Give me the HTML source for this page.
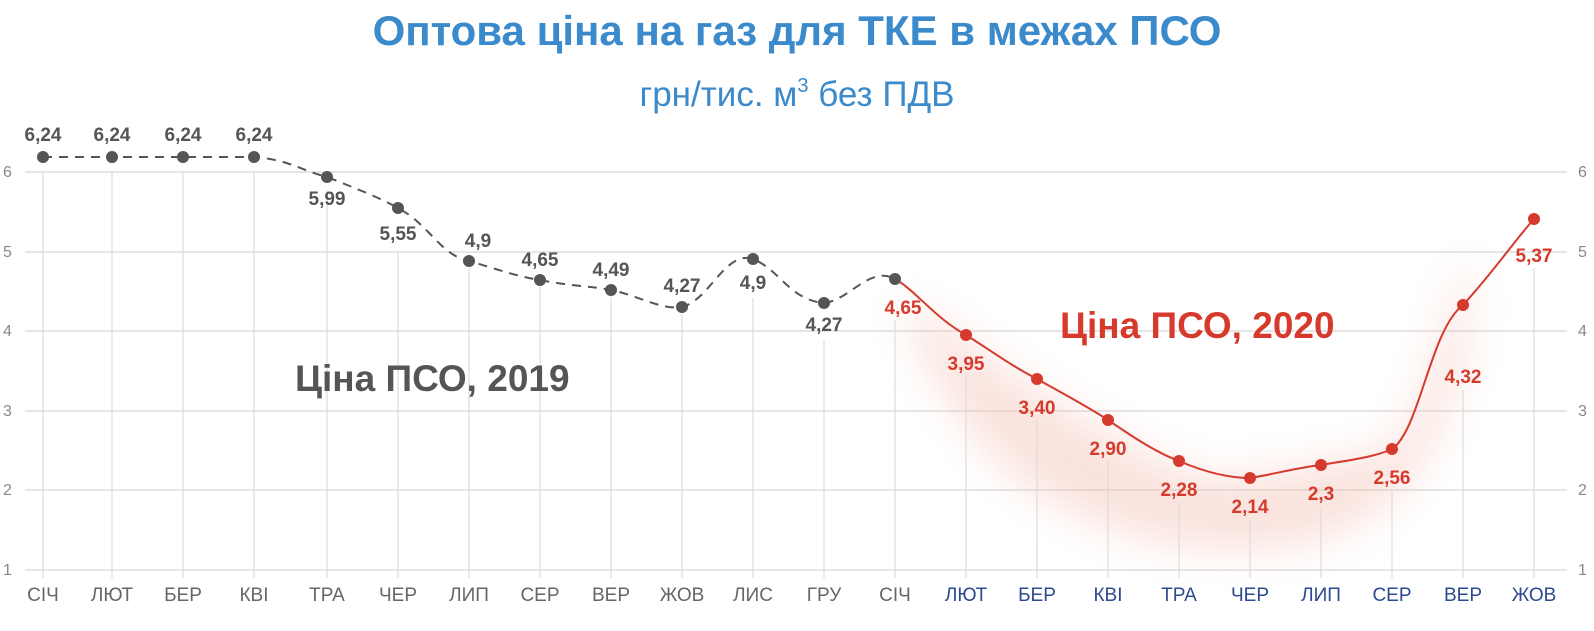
<!DOCTYPE html>
<html><head><meta charset="utf-8"><style>
body{margin:0;background:#fff;width:1594px;height:631px;overflow:hidden}
svg{display:block;font-family:"Liberation Sans","DejaVu Sans",sans-serif}
</style></head><body>
<svg width="1594" height="631" viewBox="0 0 1594 631">
<defs>
<filter id="bl" x="-20%" y="-20%" width="140%" height="140%"><feGaussianBlur stdDeviation="20"/></filter>
</defs>
<text x="797" y="45" text-anchor="middle" font-size="42" font-weight="bold" fill="#3b8acb">Оптова ціна на газ для ТКЕ в межах ПСО</text>
<text x="797" y="106" text-anchor="middle" font-size="35" fill="#3b8acb">грн/тис. м<tspan font-size="20" dy="-14">3</tspan><tspan dy="14"> без ПДВ</tspan></text>
<g stroke="#d6d6d6" stroke-width="1.3">
<line x1="25" y1="172" x2="1567" y2="172"/><line x1="25" y1="252" x2="1567" y2="252"/>
<line x1="25" y1="331" x2="1567" y2="331"/><line x1="25" y1="411" x2="1567" y2="411"/>
<line x1="25" y1="490" x2="1567" y2="490"/><line x1="25" y1="570" x2="1567" y2="570"/>
</g>
<g font-size="16" fill="#888">
<text x="3" y="177">6</text><text x="3" y="257">5</text><text x="3" y="336">4</text><text x="3" y="416">3</text><text x="3" y="495">2</text><text x="3" y="575">1</text>
<text x="1578" y="177">6</text><text x="1578" y="257">5</text><text x="1578" y="336">4</text><text x="1578" y="416">3</text><text x="1578" y="495">2</text><text x="1578" y="575">1</text>
</g>
<path d="M900,300 C960,330 1010,380 1086,420 C1140,450 1180,478 1228,478 C1300,470 1360,455 1390,449 C1420,420 1440,330 1470,250 L1470,330 C1440,460 1400,520 1300,545 C1200,560 1100,540 1020,480 C960,430 920,360 900,300 Z" fill="#f2b5a6" opacity="0.38" filter="url(#bl)"/>
<g stroke="#dcdcdc" stroke-width="1.2">
<line x1="43" y1="172" x2="43" y2="578"/><line x1="112" y1="172" x2="112" y2="578"/><line x1="183" y1="172" x2="183" y2="578"/><line x1="254" y1="172" x2="254" y2="578"/><line x1="327" y1="190" x2="327" y2="578"/><line x1="398" y1="252" x2="398" y2="578"/><line x1="469" y1="268" x2="469" y2="578"/><line x1="540" y1="287" x2="540" y2="578"/><line x1="611" y1="297" x2="611" y2="578"/><line x1="682" y1="314" x2="682" y2="578"/><line x1="753" y1="298" x2="753" y2="578"/><line x1="824" y1="340" x2="824" y2="578"/><line x1="895" y1="320" x2="895" y2="578"/><line x1="966" y1="378" x2="966" y2="578"/><line x1="1037" y1="420" x2="1037" y2="578"/><line x1="1108" y1="462" x2="1108" y2="578"/><line x1="1179" y1="502" x2="1179" y2="578"/><line x1="1250" y1="520" x2="1250" y2="578"/><line x1="1321" y1="506" x2="1321" y2="578"/><line x1="1392" y1="490" x2="1392" y2="578"/><line x1="1463" y1="390" x2="1463" y2="578"/><line x1="1534" y1="268" x2="1534" y2="578"/>
</g>
<path d="M43,157 L254,157 C290,160 300,170 327,177 C360,190 380,198 398,208 C430,225 440,255 469,261 C500,270 515,276 540,280 C570,286 590,286 611,290 C640,296 660,310 682,307 C710,300 725,250 753,259 C780,270 790,300 824,303 C850,300 870,265 895,279" fill="none" stroke="#555" stroke-width="2" stroke-dasharray="9,7"/>
<path d="M895,279 C915,290 935,318 966,335 C990,350 1010,365 1037,379 C1060,392 1085,405 1108,420 C1130,435 1155,452 1179,461 C1200,470 1225,478 1250,478 C1270,475 1295,468 1321,465 C1350,460 1375,457 1392,449 C1420,430 1430,330 1463,305 C1495,270 1515,240 1534,219" fill="none" stroke="#d63a2c" stroke-width="2"/>
<g fill="#555">
<circle cx="43" cy="157" r="6"/><circle cx="112" cy="157" r="6"/><circle cx="183" cy="157" r="6"/><circle cx="254" cy="157" r="6"/><circle cx="327" cy="177" r="6"/><circle cx="398" cy="208" r="6"/><circle cx="469" cy="261" r="6"/><circle cx="540" cy="280" r="6"/><circle cx="611" cy="290" r="6"/><circle cx="682" cy="307" r="6"/><circle cx="753" cy="259" r="6"/><circle cx="824" cy="303" r="6"/><circle cx="895" cy="279" r="6"/>
</g>
<g fill="#d63a2c">
<circle cx="966" cy="335" r="6"/><circle cx="1037" cy="379" r="6"/><circle cx="1108" cy="420" r="6"/><circle cx="1179" cy="461" r="6"/><circle cx="1250" cy="478" r="6"/><circle cx="1321" cy="465" r="6"/><circle cx="1392" cy="449" r="6"/><circle cx="1463" cy="305" r="6"/><circle cx="1534" cy="219" r="6"/>
</g>
<g font-size="19" font-weight="bold" fill="#555" text-anchor="middle">
<text x="43" y="141">6,24</text><text x="112" y="141">6,24</text><text x="183" y="141">6,24</text><text x="254" y="141">6,24</text>
<text x="327" y="205">5,99</text><text x="398" y="240">5,55</text><text x="478" y="247">4,9</text><text x="540" y="266">4,65</text><text x="611" y="276">4,49</text><text x="682" y="292">4,27</text><text x="753" y="289">4,9</text><text x="824" y="331">4,27</text>
</g>
<g font-size="19" font-weight="bold" fill="#d63a2c" text-anchor="middle">
<text x="903" y="314">4,65</text><text x="966" y="370">3,95</text><text x="1037" y="414">3,40</text><text x="1108" y="455">2,90</text><text x="1179" y="496">2,28</text><text x="1250" y="513">2,14</text><text x="1321" y="500">2,3</text><text x="1392" y="484">2,56</text><text x="1463" y="383">4,32</text><text x="1534" y="262">5,37</text>
</g>
<text x="295" y="391" font-size="37" font-weight="bold" fill="#555">Ціна ПСО, 2019</text>
<text x="1060" y="338" font-size="37" font-weight="bold" fill="#d63a2c">Ціна ПСО, 2020</text>
<g font-size="19" text-anchor="middle" fill="#666">
<text x="43" y="601">СІЧ</text><text x="112" y="601">ЛЮТ</text><text x="183" y="601">БЕР</text><text x="254" y="601">КВІ</text><text x="327" y="601">ТРА</text><text x="398" y="601">ЧЕР</text><text x="469" y="601">ЛИП</text><text x="540" y="601">СЕР</text><text x="611" y="601">ВЕР</text><text x="682" y="601">ЖОВ</text><text x="753" y="601">ЛИС</text><text x="824" y="601">ГРУ</text><text x="895" y="601">СІЧ</text>
</g>
<g font-size="19" text-anchor="middle" fill="#2b4a8f">
<text x="966" y="601">ЛЮТ</text><text x="1037" y="601">БЕР</text><text x="1108" y="601">КВІ</text><text x="1179" y="601">ТРА</text><text x="1250" y="601">ЧЕР</text><text x="1321" y="601">ЛИП</text><text x="1392" y="601">СЕР</text><text x="1463" y="601">ВЕР</text><text x="1534" y="601">ЖОВ</text>
</g>
</svg>
</body></html>
